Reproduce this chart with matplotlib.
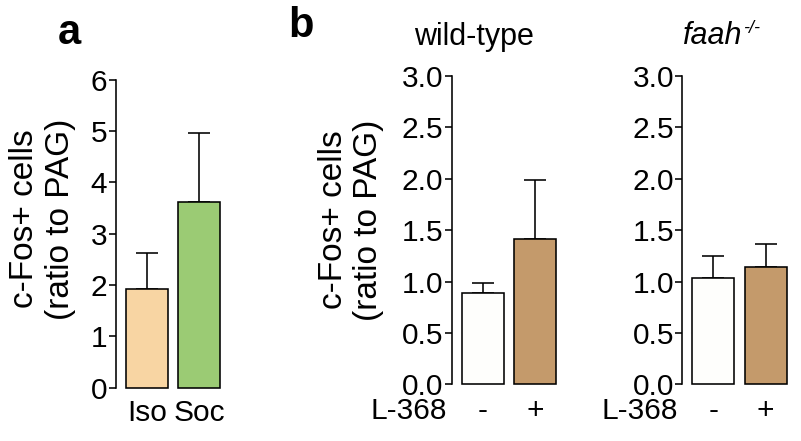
import matplotlib
matplotlib.use("Agg")
import matplotlib.pyplot as plt
import numpy as np

plt.rcParams['font.family'] = ['Liberation Sans', 'DejaVu Sans']

# ---- data ----
a_categories = ["Iso", "Soc"]
a_values = [1.93, 3.61]
a_errors = [0.69, 1.35]
a_colors = ["#F8D5A3", "#9BCB74"]

b_categories = ["-", "+"]
wt_values = [0.89, 1.41]
wt_errors = [0.10, 0.58]
faah_values = [1.03, 1.14]
faah_errors = [0.22, 0.23]
b_colors = ["#FEFEFC", "#C49A6B"]

a_yticks = [0, 1, 2, 3, 4, 5, 6]
b_yticks = [0.0, 0.5, 1.0, 1.5, 2.0, 2.5, 3.0]

ylabel_text = "c-Fos+ cells\n(ratio to PAG)"

W, H = 801, 441
fig = plt.figure(figsize=(W / 100, H / 100), dpi=100)

LW = 1.15
TICK_FS = 21.5
XPAD = 9.5


def make_ax(left_px, top_px, bottom_px):
    width_px = 108.8
    return fig.add_axes([left_px / W, 1 - bottom_px / H, width_px / W,
                         (bottom_px - top_px) / H])


def style(ax, yticks, fmt):
    for s in ["top", "right", "bottom"]:
        ax.spines[s].set_visible(False)
    ax.spines["left"].set_linewidth(LW)
    ax.set_ylim(yticks[0], yticks[-1])
    ax.set_xlim(-0.594, 1.49)
    ax.set_yticks(yticks)
    ax.set_yticklabels([fmt.format(v) for v in yticks])
    ax.tick_params(axis="y", length=5, width=LW, pad=1, labelsize=TICK_FS)
    ax.tick_params(axis="x", length=0, pad=XPAD, labelsize=TICK_FS)
    ax.patch.set_alpha(0)


def draw_bars(ax, cats, vals, errs, colors):
    x = np.arange(len(cats))
    ax.bar(x, vals, width=0.805, color=colors, edgecolor="black",
           linewidth=LW, zorder=3, clip_on=False)
    ax.errorbar(x, vals, yerr=[np.zeros(len(vals)), errs], fmt="none",
                ecolor="black", elinewidth=LW, capsize=7.9, capthick=LW,
                zorder=2, clip_on=False)
    ax.set_xticks(x)
    ax.set_xticklabels(cats)


# panel a
ax_a = make_ax(115.7, 79.7, 387.7)
draw_bars(ax_a, a_categories, a_values, a_errors, a_colors)
style(ax_a, a_yticks, "{:d}")
ax_a.tick_params(axis="x", pad=8)

# panel b wild-type
ax_wt = make_ax(451.7, 76.0, 384.3)
draw_bars(ax_wt, b_categories, wt_values, wt_errors, b_colors)
style(ax_wt, b_yticks, "{:.1f}")

# panel b faah
ax_fa = make_ax(682.3, 76.0, 384.3)
draw_bars(ax_fa, b_categories, faah_values, faah_errors, b_colors)
style(ax_fa, b_yticks, "{:.1f}")

# L-368 labels
for ax in (ax_wt, ax_fa):
    ax.annotate("L-368", xy=(0, 0), xycoords="axes fraction",
                xytext=(-3.5, -XPAD), textcoords="offset points",
                ha="right", va="top", fontsize=TICK_FS)

# y labels
fig.text(42.5 / W, 1 - 219 / H, ylabel_text, rotation=90, ha="center",
         va="center", fontsize=24, linespacing=1.2, multialignment="center")
fig.text(351 / W, 1 - 220 / H, ylabel_text, rotation=90, ha="center",
         va="center", fontsize=24, linespacing=1.2, multialignment="center")

# panel letters
fig.text(69 / W, 1 - 44 / H, "a", fontsize=30, fontweight="bold",
         ha="center", va="baseline")
fig.text(301 / W, 1 - 37 / H, "b", fontsize=30, fontweight="bold",
         ha="center", va="baseline")

# titles
fig.text(474 / W, 1 - 45 / H, "wild-type", fontsize=22, ha="center",
         va="baseline")
t = fig.text(683 / W, 1 - 44 / H, "faah", fontsize=22, style="italic",
             ha="left", va="baseline")
ax_fa.annotate("-/-", xy=(1, 1), xycoords=t, xytext=(0.5, 1),
               textcoords="offset points", ha="left", va="top",
               fontsize=13, style="italic")

fig.savefig("out.png", dpi=100)
